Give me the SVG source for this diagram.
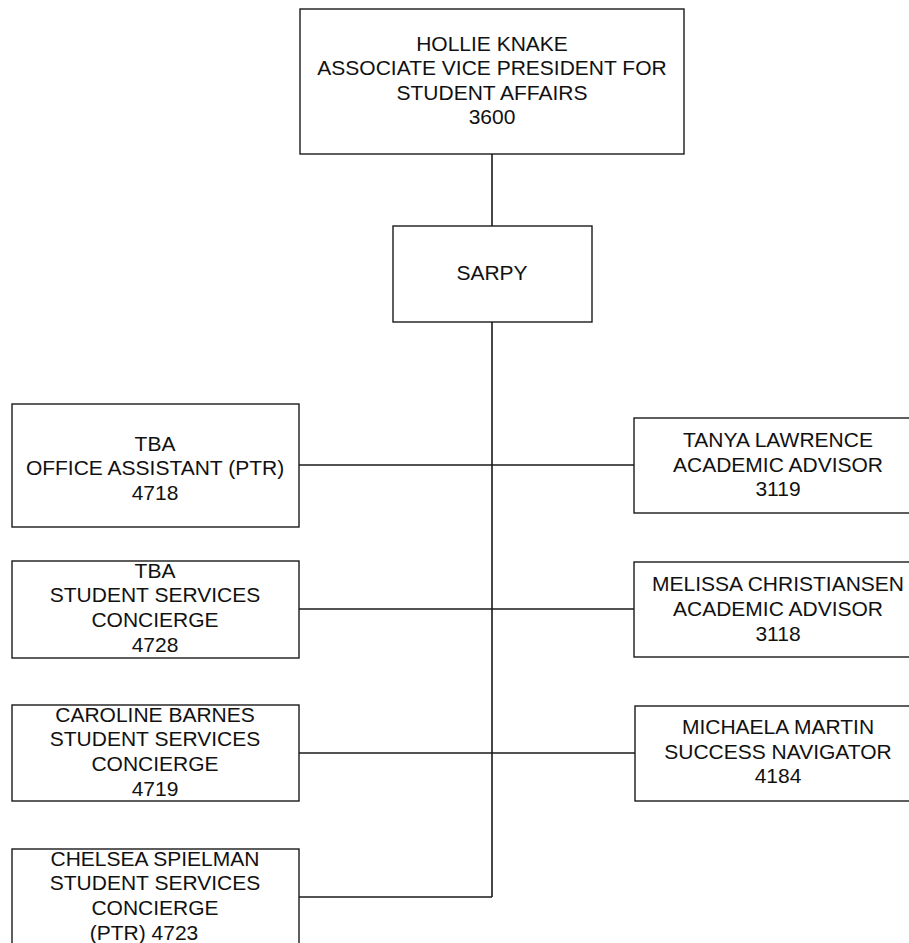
<svg xmlns="http://www.w3.org/2000/svg" width="909" height="943" viewBox="0 0 909 943">
<style>
.box{fill:#fff;stroke:#1a1a1a;stroke-width:1.4}
.t{font-family:"Liberation Sans",Arial,sans-serif;font-size:21px;fill:#111;text-anchor:middle}
.c{stroke:#1a1a1a;stroke-width:1.6;fill:none}
</style>
<rect width="909" height="943" fill="#fff"/>
<g id="connectors">
<line class="c" x1="492" y1="154" x2="492" y2="226"/>
<line class="c" x1="492" y1="322" x2="492" y2="897"/>
<line class="c" x1="299" y1="465" x2="634" y2="465"/>
<line class="c" x1="299" y1="609" x2="634" y2="609"/>
<line class="c" x1="299" y1="753" x2="635" y2="753"/>
<line class="c" x1="299" y1="897" x2="492" y2="897"/>
</g>
<g id="n-avp">
<rect class="box" x="300" y="9" width="384" height="145"/>
<text class="t" x="492" y="51">HOLLIE KNAKE</text>
<text class="t" x="492" y="75">ASSOCIATE VICE PRESIDENT FOR</text>
<text class="t" x="492" y="100">STUDENT AFFAIRS</text>
<text class="t" x="492" y="124">3600</text>
</g>
<g id="n-sarpy">
<rect class="box" x="393" y="226" width="199" height="96"/>
<text class="t" x="492" y="280">SARPY</text>
</g>
<g id="n-tba1">
<rect class="box" x="12" y="404" width="287" height="123"/>
<text class="t" x="155" y="451">TBA</text>
<text class="t" x="155" y="475">OFFICE ASSISTANT (PTR)</text>
<text class="t" x="155" y="500">4718</text>
</g>
<g id="n-tba2">
<rect class="box" x="12" y="561" width="287" height="97"/>
<text class="t" x="155" y="578">TBA</text>
<text class="t" x="155" y="602">STUDENT SERVICES</text>
<text class="t" x="155" y="627">CONCIERGE</text>
<text class="t" x="155" y="652">4728</text>
</g>
<g id="n-barnes">
<rect class="box" x="12" y="705" width="287" height="96"/>
<text class="t" x="155" y="722">CAROLINE BARNES</text>
<text class="t" x="155" y="746">STUDENT SERVICES</text>
<text class="t" x="155" y="771">CONCIERGE</text>
<text class="t" x="155" y="796">4719</text>
</g>
<g id="n-spielman">
<rect class="box" x="12" y="849" width="287" height="110"/>
<text class="t" x="155" y="866">CHELSEA SPIELMAN</text>
<text class="t" x="155" y="890">STUDENT SERVICES</text>
<text class="t" x="155" y="915">CONCIERGE</text>
<text class="t" x="144" y="940">(PTR) 4723</text>
</g>
<g id="n-lawrence">
<rect class="box" x="634" y="418" width="290" height="95"/>
<text class="t" x="778" y="447">TANYA LAWRENCE</text>
<text class="t" x="778" y="472">ACADEMIC ADVISOR</text>
<text class="t" x="778" y="496">3119</text>
</g>
<g id="n-christiansen">
<rect class="box" x="634" y="562" width="290" height="95"/>
<text class="t" x="778" y="591">MELISSA CHRISTIANSEN</text>
<text class="t" x="778" y="616">ACADEMIC ADVISOR</text>
<text class="t" x="778" y="641">3118</text>
</g>
<g id="n-martin">
<rect class="box" x="635" y="706" width="290" height="95"/>
<text class="t" x="778" y="734">MICHAELA MARTIN</text>
<text class="t" x="778" y="759">SUCCESS NAVIGATOR</text>
<text class="t" x="778" y="783">4184</text>
</g>
</svg>
